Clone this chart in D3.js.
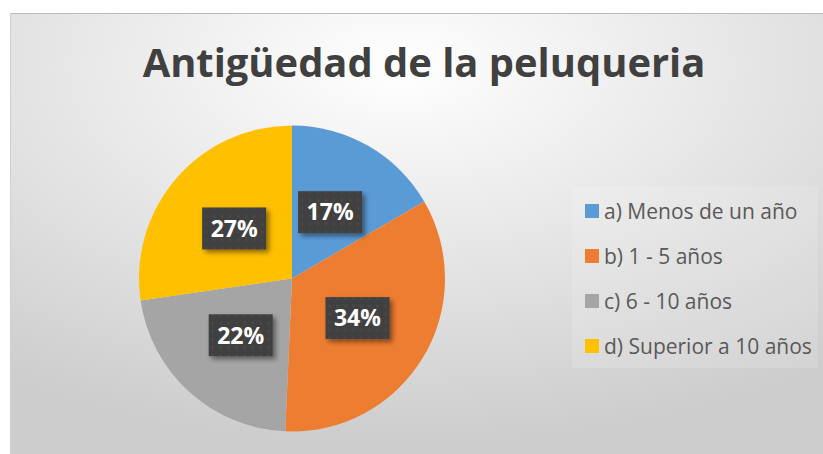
<!DOCTYPE html>
<html>
<head>
<meta charset="utf-8">
<script src="https://cdn.jsdelivr.net/npm/d3@7"></script>
<style>
  body { margin: 0; background: #fff; }
  svg { display: block; }
</style>
</head>
<body>
<div id="chart"></div>
<script>
// Chart data
var title = "Antigüedad de la peluqueria";
var categories = ["a) Menos de un año", "b) 1 - 5 años", "c) 6 - 10 años", "d) Superior a 10 años"];
var values = [16.6, 34.1, 22.0, 27.3];
var colors = ["#5B9BD5", "#ED7D31", "#A5A5A5", "#FFC000"];

var svgWidth = 823;
var svgHeight = 454;

var svg = d3.select("#chart")
    .append("svg")
    .attr("width", svgWidth)
    .attr("height", svgHeight);

var defs = svg.append("defs");

// Background gradient
var grad = defs.append("radialGradient")
    .attr("id", "bg")
    .attr("cx", "48%")
    .attr("cy", "12%")
    .attr("r", "85%");
grad.append("stop").attr("offset", "0%").attr("stop-color", "#ffffff");
grad.append("stop").attr("offset", "100%").attr("stop-color", "#cdcdcd");

// Shadow for label boxes
var shadow = defs.append("filter")
    .attr("id", "shadow")
    .attr("x", "-20%").attr("y", "-20%")
    .attr("width", "150%").attr("height", "150%");
shadow.append("feDropShadow")
    .attr("dx", 3).attr("dy", 3)
    .attr("stdDeviation", 2.5)
    .attr("flood-color", "#000")
    .attr("flood-opacity", 0.45);

// Dotted texture in label boxes
var pattern = defs.append("pattern")
    .attr("id", "dots")
    .attr("width", 8).attr("height", 8)
    .attr("patternUnits", "userSpaceOnUse");
pattern.append("rect").attr("width", 8).attr("height", 8).attr("fill", "#404040");
pattern.append("circle").attr("cx", 4).attr("cy", 4).attr("r", 1.4).attr("fill", "#4a4a4a");

// Chart area
svg.append("rect")
    .attr("x", 10).attr("y", 13)
    .attr("width", svgWidth - 10).attr("height", svgHeight - 13)
    .attr("fill", "url(#bg)");
svg.append("line")
    .attr("x1", 10).attr("x2", svgWidth)
    .attr("y1", 13.5).attr("y2", 13.5)
    .attr("stroke", "#bdbdbd");
svg.append("line")
    .attr("x1", 10.5).attr("x2", 10.5)
    .attr("y1", 13).attr("y2", svgHeight)
    .attr("stroke", "#d0d0d0");

// Title
var titleText = svg.append("text")
    .attr("x", 424)
    .attr("y", 77)
    .attr("text-anchor", "middle")
    .attr("font-family", "'Open Sans', sans-serif")
    .attr("font-weight", "bold")
    .attr("font-size", 36)
    .attr("fill", "#404040")
    .text(title);
// fit title to the width seen in the picture
var tw = titleText.node().getComputedTextLength();
titleText.attr("font-size", 36 * 563 / tw);

// Pie
var cx = 292, cy = 278.5, radius = 153;
var pie = d3.pie().sort(null).value(d => d);
var arcs = pie(values);
var arc = d3.arc().innerRadius(0).outerRadius(radius);
var labelArc = d3.arc().innerRadius(radius * 0.5).outerRadius(radius * 0.5);

var pieGroup = svg.append("g")
    .attr("transform", `translate(${cx}, ${cy})`);

pieGroup.selectAll("path")
    .data(arcs)
    .enter()
    .append("path")
    .attr("d", arc)
    .attr("fill", (d, i) => colors[i]);

// Data labels
var labels = pieGroup.selectAll("g.label")
    .data(arcs)
    .enter()
    .append("g")
    .attr("class", "label")
    .attr("transform", d => `translate(${labelArc.centroid(d)})`);

labels.append("rect")
    .attr("x", -32).attr("y", -21)
    .attr("width", 64).attr("height", 42)
    .attr("fill", "url(#dots)")
    .attr("filter", "url(#shadow)");

labels.append("text")
    .attr("text-anchor", "middle")
    .attr("dy", "0.36em")
    .attr("font-family", "'Open Sans', sans-serif")
    .attr("font-weight", "bold")
    .attr("font-size", 23)
    .attr("fill", "#fff")
    .text(d => Math.round(d.data) + "%");

// Legend
var legend = svg.append("g");
legend.append("rect")
    .attr("x", 572).attr("y", 186)
    .attr("width", 246).attr("height", 182)
    .attr("fill", "#fff")
    .attr("opacity", 0.14);

var legendItems = legend.selectAll("g.item")
    .data(categories)
    .enter()
    .append("g")
    .attr("class", "item")
    .attr("transform", (d, i) => `translate(585, ${211 + i * 45})`);

legendItems.append("rect")
    .attr("x", 0).attr("y", -7)
    .attr("width", 14).attr("height", 14)
    .attr("fill", (d, i) => colors[i]);

var legendText = legendItems.append("text")
    .attr("x", 19)
    .attr("dy", "0.36em")
    .attr("font-family", "'Open Sans', sans-serif")
    .attr("font-size", 19)
    .attr("fill", "#595959")
    .text(d => d);
// fit legend font so the first entry spans the same width as in the picture
var lw = legendText.node().getComputedTextLength();
legendText.attr("font-size", Math.min(21, 19 * 194 / lw));
</script>
</body>
</html>
